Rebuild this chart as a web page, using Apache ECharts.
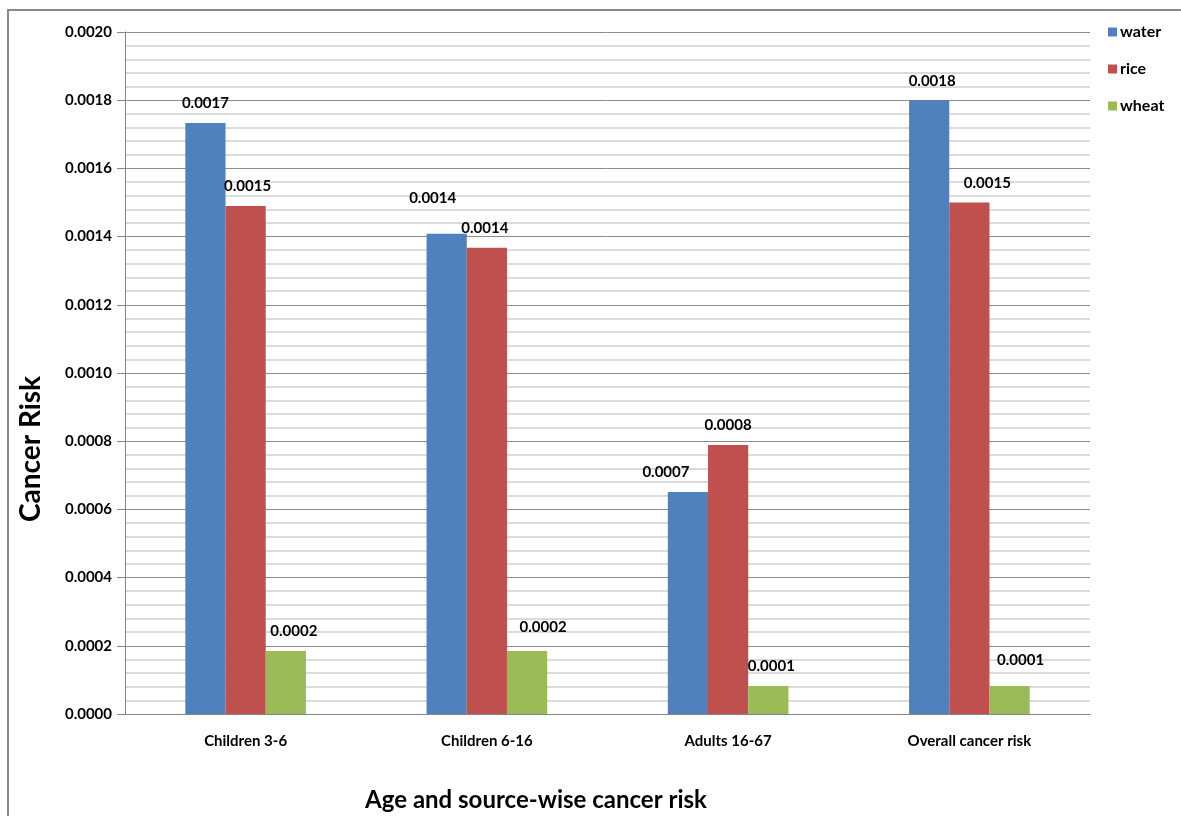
<!DOCTYPE html>
<html>
<head>
<meta charset="utf-8">
<script src="https://cdn.jsdelivr.net/npm/echarts@6/dist/echarts.min.js"></script>
<style>
  html, body { margin: 0; padding: 0; background: #fff; }
  #chart { width: 1181px; height: 816px; }
</style>
</head>
<body>
<div id="chart"></div>
<script>
// Cancer risk by age group and intake source
const categories = ['Children 3-6', 'Children 6-16', 'Adults 16-67', 'Overall cancer risk'];
const water = [0.001733, 0.001408, 0.000651, 0.001800];
const rice  = [0.001490, 0.001367, 0.000789, 0.001500];
const wheat = [0.000185, 0.000185, 0.000082, 0.000082];
const yTicks = [0, 0.0002, 0.0004, 0.0006, 0.0008, 0.0010, 0.0012, 0.0014, 0.0016, 0.0018, 0.0020];

// label nudges [dx, dy] per series, per category
const waterLabelShift = [[0, 0], [-14, -16], [-22, 0], [3, 0]];
const riceLabelShift  = [[2, 0], [-2, 0], [0, 0], [18, 0]];
const wheatLabelShift = [[8, 0], [16, -4], [3, 0], [11, -6]];

const FONT = "Lato, 'Open Sans', sans-serif";

function withShift(values, shifts) {
  return values.map((v, i) => ({
    value: v,
    label: { offset: shifts[i] }
  }));
}

const labelStyle = {
  show: true,
  position: 'top',
  distance: 12,
  fontFamily: FONT,
  fontWeight: 'bold',
  fontSize: 15,
  color: '#000',
  formatter: p => p.value.toFixed(4)
};

const chart = echarts.init(document.getElementById('chart'), null, { renderer: 'canvas' });

chart.setOption({
  animation: false,
  backgroundColor: '#fff',
  grid: { left: 125, right: 91, top: 32, bottom: 102, containLabel: false },
  legend: {
    orient: 'vertical',
    left: 1108,
    top: 24,
    padding: 0,
    itemWidth: 9,
    itemHeight: 9,
    itemGap: 21,
    icon: 'rect',
    textStyle: { fontFamily: FONT, fontWeight: 'bold', fontSize: 16, color: '#000', padding: [0, 0, 0, -2] },
    data: ['water', 'rice', 'wheat']
  },
  xAxis: {
    type: 'category',
    data: categories,
    axisLine: { lineStyle: { color: '#868686', width: 1 } },
    axisTick: { show: false },
    axisLabel: { fontFamily: FONT, fontWeight: 'bold', fontSize: 15, color: '#000', margin: 20 }
  },
  yAxis: {
    type: 'value',
    min: 0,
    max: 0.0020,
    interval: 0.0002,
    axisLine: { show: true, lineStyle: { color: '#868686', width: 1 } },
    axisTick: { show: true, length: 8, lineStyle: { color: '#868686' } },
    axisLabel: {
      fontFamily: FONT, fontWeight: 'bold', fontSize: 15, color: '#000', margin: 13,
      formatter: v => {
        const t = yTicks.find(k => Math.abs(k - v) < 1e-9);
        return (t === undefined ? v : t).toFixed(4);
      }
    },
    splitLine: { show: true, lineStyle: { color: '#8c8c8c', width: 1 } },
    minorTick: { show: false, splitNumber: 5 },
    minorSplitLine: { show: true, lineStyle: { color: '#cfcfcf', width: 1.5 } }
  },
  series: [
    {
      name: 'water', type: 'bar', barGap: '0%', barCategoryGap: '50%',
      itemStyle: { color: '#4f81bd' },
      label: labelStyle,
      data: withShift(water, waterLabelShift)
    },
    {
      name: 'rice', type: 'bar', barGap: '0%', barCategoryGap: '50%',
      itemStyle: { color: '#c0504d' },
      label: labelStyle,
      data: withShift(rice, riceLabelShift)
    },
    {
      name: 'wheat', type: 'bar', barGap: '0%', barCategoryGap: '50%',
      itemStyle: { color: '#9bbb59' },
      label: labelStyle,
      data: withShift(wheat, wheatLabelShift)
    }
  ],
  graphic: [
    {
      type: 'rect',
      shape: { x: 8, y: 10, width: 1300, height: 1000 },
      style: { fill: 'none', stroke: '#8a8a8a', lineWidth: 2 },
      silent: true,
      z: 100
    },
    {
      type: 'text',
      x: 31,
      y: 449,
      rotation: Math.PI / 2,
      style: {
        text: 'Cancer Risk',
        font: "bold 28px Lato, 'Open Sans', sans-serif",
        fill: '#000',
        textAlign: 'center',
        textVerticalAlign: 'middle'
      }
    },
    {
      type: 'text',
      x: 536,
      y: 800,
      style: {
        text: 'Age and source-wise cancer risk',
        font: "bold 24px Lato, 'Open Sans', sans-serif",
        fill: '#000',
        textAlign: 'center',
        textVerticalAlign: 'middle'
      }
    }
  ]
});
</script>
</body>
</html>
